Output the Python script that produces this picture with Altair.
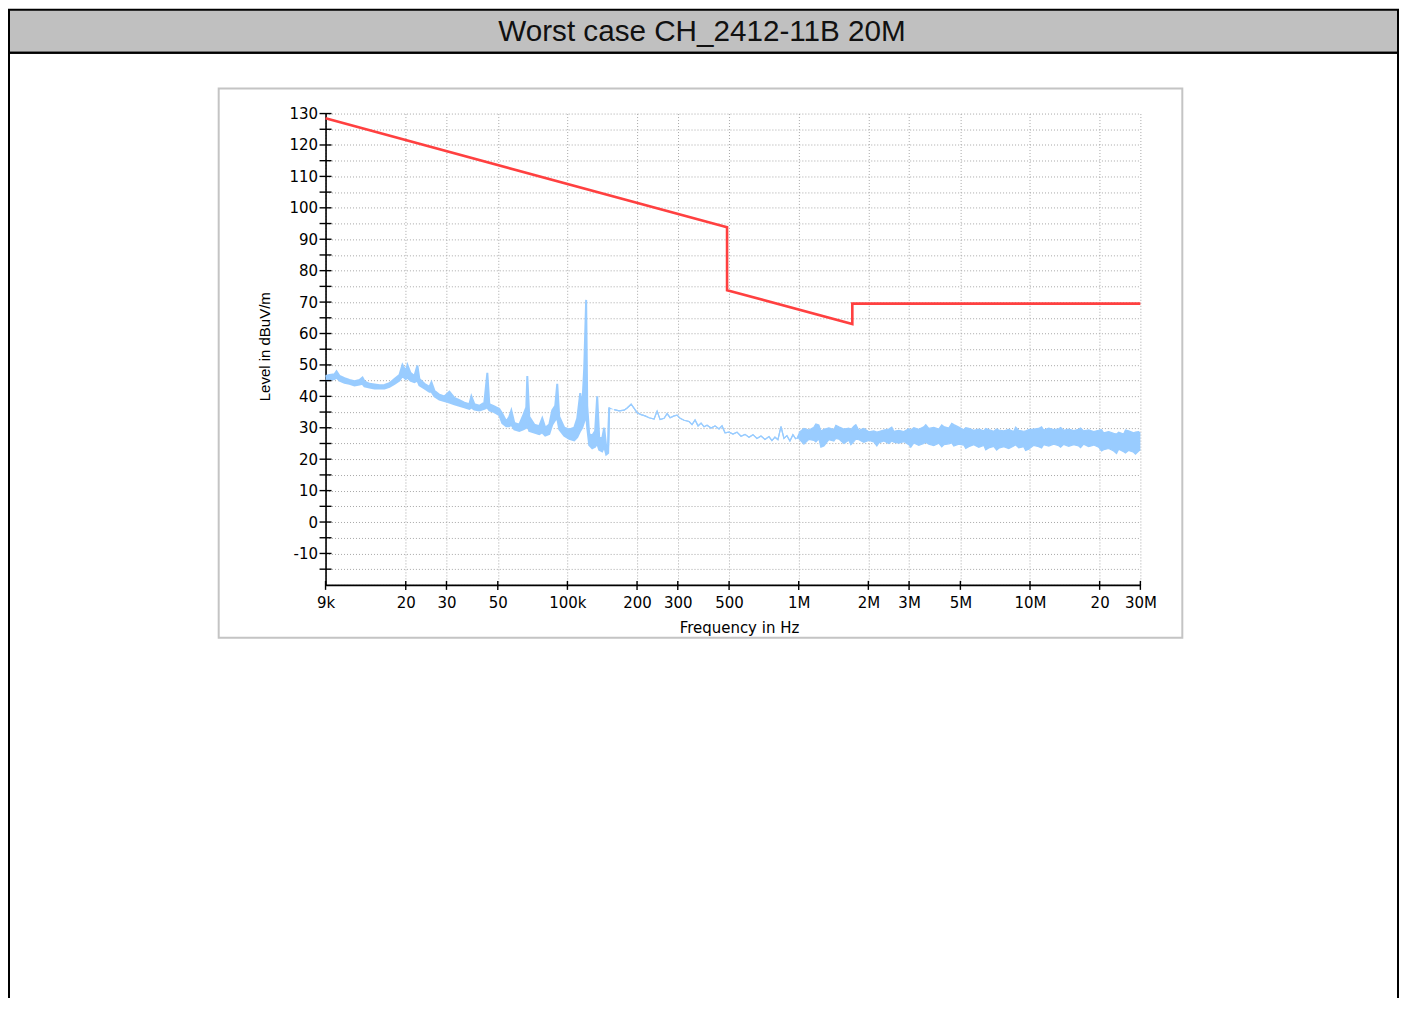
import altair as alt
import pandas as pd

TITLE = "Worst case CH_2412-11B 20M"
X_TITLE = "Frequency in Hz"
Y_TITLE = "Level in dBuV/m"

X_TICK_HZ = [9000, 20000, 30000, 50000, 100000, 200000, 300000, 500000,
             1000000, 2000000, 3000000, 5000000, 10000000, 20000000, 30000000]
X_TICK_LABELS = ["9k", "20", "30", "50", "100k", "200", "300", "500",
                 "1M", "2M", "3M", "5M", "10M", "20", "30M"]
Y_GRID = [-20, -15, -10, -5, 0, 5, 10, 15, 20, 25, 30, 35, 40, 45, 50, 55, 60,
          65, 70, 75, 80, 85, 90, 95, 100, 105, 110, 115, 120, 125, 130]
Y_TICKS = [-15, -10, -5, 0, 5, 10, 15, 20, 25, 30, 35, 40, 45, 50, 55, 60,
           65, 70, 75, 80, 85, 90, 95, 100, 105, 110, 115, 120, 125, 130]

# limit line (Hz, dBuV/m)
LIMIT_FREQ_HZ = [9000, 490000, 490000, 1705000, 1705000, 30000000]
LIMIT_LEVEL = [128.5, 93.8, 73.8, 63.0, 69.5, 69.5]

# measured trace, low band (kHz): min / max of the sweep
LOW_FREQ_KHZ = [9.00, 9.37, 9.84, 10.04, 10.35, 10.87, 11.42, 12.01, 12.62, 13.00,
                13.26, 13.94, 14.65, 15.40, 16.18, 17.00, 17.87, 18.78, 19.35, 20.00,
                20.34, 20.95, 21.80, 22.46, 22.91, 24.08, 25.31, 25.83, 26.60, 27.95,
                29.38, 30.88, 32.45, 34.10, 35.84, 37.67, 38.43, 39.59, 41.61, 43.73,
                45.05, 45.96, 48.30, 50.76, 52.28, 54.41, 56.07, 57.20, 58.93, 61.93,
                64.44, 66.40, 67.07, 68.40, 71.89, 75.55, 77.85, 80.20, 83.45, 85.97,
                88.58, 90.36, 92.17, 96.87, 101.8, 107.0, 110.3, 113.6, 115.8, 118.2,
                120.5, 121.8, 124.2, 128.0, 131.8, 134.5, 137.2, 141.3, 144.2, 147.1,
                150.0, 151.5]
LOW_LO = [45.0, 45.3, 45.5, 46.0, 45.0, 44.3, 44.0, 43.5, 43.8, 44.0,
          43.2, 42.8, 42.5, 42.5, 42.5, 43.0, 44.0, 45.0, 46.5, 45.5,
          46.0, 45.0, 44.5, 45.0, 43.5, 42.5, 41.5, 41.5, 40.0, 39.0,
          38.5, 38.0, 37.5, 37.0, 36.5, 36.0, 36.5, 35.8, 35.5, 36.0,
          36.5, 35.5, 35.0, 34.0, 31.5, 30.5, 30.5, 31.0, 29.5, 29.0,
          29.5, 30.0, 31.0, 29.0, 28.5, 28.0, 28.5, 27.5, 28.0, 31.0,
          32.5, 33.0, 29.5, 27.5, 26.5, 26.0, 27.0, 29.0, 30.0, 32.0,
          34.0, 30.0, 24.5, 23.5, 24.0, 25.0, 23.0, 22.5, 24.0, 21.5,
          22.0, 36.0]
LOW_HI = [46.5, 46.8, 47.0, 48.0, 46.5, 45.8, 45.2, 44.8, 45.2, 46.0,
          44.8, 44.0, 43.8, 43.5, 43.6, 44.2, 45.5, 46.8, 50.0, 48.0,
          50.0, 47.5, 46.5, 49.8, 45.5, 44.0, 43.0, 44.5, 41.8, 40.5,
          40.0, 41.5, 39.5, 38.8, 38.0, 37.5, 40.0, 37.5, 37.0, 38.0,
          47.5, 37.5, 36.8, 36.0, 34.5, 32.0, 33.5, 35.5, 31.5, 31.0,
          34.0, 36.5, 46.5, 33.5, 31.0, 30.5, 33.0, 30.0, 31.0, 35.5,
          37.0, 44.0, 33.5, 30.0, 29.5, 30.0, 33.0, 41.0, 36.0, 49.0,
          70.7, 37.0, 28.0, 27.5, 29.0, 40.0, 27.0, 26.5, 30.0, 24.0,
          24.5, 36.5]

# measured trace, middle band (kHz): single line
MID_FREQ_KHZ = [159.2, 167.4, 175.9, 181.2, 188.6, 194.3, 200.1, 208.2, 216.7, 225.5,
                237.0, 244.2, 251.6, 261.8, 269.8, 277.9, 289.2, 298.0, 307.0, 319.4,
                335.7, 345.8, 356.3, 367.1, 378.3, 389.7, 401.5, 417.8, 434.7, 452.3,
                466.1, 480.2, 499.6, 519.8, 541.0, 563.0, 585.8, 609.5, 634.2, 660.0,
                686.8, 714.7, 743.6, 766.0, 789.3, 813.2, 837.8, 863.2, 889.2, 916.2,
                944.0, 972.5]
MID_LEVEL = [35.8, 35.4, 35.6, 36.3, 37.5, 36.2, 34.8, 34.2, 33.8, 33.2,
             32.8, 35.3, 32.6, 33.0, 34.5, 33.2, 33.8, 34.0, 33.0, 32.4,
             32.0, 31.0, 32.5, 30.6, 31.5, 30.3, 30.8, 29.9, 30.6, 29.6,
             30.6, 28.4, 28.6, 28.0, 28.6, 27.3, 27.9, 27.0, 27.8, 26.6,
             27.4, 26.3, 27.2, 25.9, 27.0, 26.2, 30.4, 26.6, 27.5, 25.8,
             27.8, 26.4]

# measured trace, high band (kHz): min / max of the noise band
HIGH_FREQ_KHZ = [1002, 1053, 1107, 1163, 1222, 1285, 1350, 1419, 1491, 1567,
                 1647, 1731, 1820, 1912, 2010, 2112, 2220, 2333, 2452, 2577,
                 2709, 2847, 2992, 3145, 3305, 3474, 3651, 3837, 4033, 4238,
                 4455, 4682, 4921, 5172, 5435, 5712, 6004, 6310, 6632, 6970,
                 7325, 7699, 8091, 8504, 8938, 9393, 9872, 10380, 10900, 11460,
                 12050, 12660, 13310, 13980, 14700, 15450, 16230, 17060, 17930, 18850,
                 19810, 20820, 21880, 23000, 24170, 25400, 26700, 28060, 29490, 30000]
HIGH_LO = [26.5, 24.8, 26.3, 26.0, 26.5, 24.2, 26.2, 25.8, 26.4, 25.0,
           26.0, 25.6, 26.2, 25.4, 26.0, 25.5, 25.2, 25.8, 25.0, 25.4,
           25.1, 25.6, 24.6, 25.2, 24.4, 25.0, 24.8, 24.3, 25.1, 24.6,
           24.9, 24.2, 24.8, 24.5, 24.0, 24.6, 23.8, 24.4, 23.6, 24.1,
           23.5, 24.0, 23.4, 24.2, 23.6, 24.0, 23.2, 24.4, 24.0, 24.6,
           24.2, 24.8, 24.3, 24.7, 24.1, 24.6, 24.2, 24.8, 24.0, 24.5,
           23.8, 23.0, 23.4, 22.6, 23.2, 22.4, 22.8, 22.2, 22.6, 23.0]
HIGH_HI = [28.5, 29.8, 29.3, 30.2, 30.9, 29.5, 30.0, 29.4, 30.3, 29.6,
           29.9, 30.5, 29.2, 29.8, 28.7, 29.0, 28.8, 29.3, 29.6, 28.9,
           29.2, 28.8, 29.7, 30.0, 29.5, 30.3, 29.8, 30.1, 29.6, 30.4,
           29.9, 31.0, 30.2, 29.4, 29.8, 29.2, 29.6, 29.0, 29.4, 28.9,
           29.3, 29.0, 29.5, 28.8, 29.2, 28.9, 29.4, 29.6, 29.8, 29.3,
           29.9, 29.4, 29.7, 29.2, 29.6, 29.1, 29.5, 29.0, 29.3, 28.8,
           29.2, 28.4, 28.8, 28.2, 28.6, 28.0, 29.0, 28.4, 28.8, 28.2]

# isolated spikes / dips inside the high band (kHz)
SPIKE_FREQ_KHZ = [1186, 1247, 1447, 1680, 1766, 2176, 2526, 3051, 3542, 4152,
                  4587, 5272, 6433, 7174, 8667, 9571, 11220, 13560, 16540, 20380,
                  23660, 25870, 28570]
SPIKE_LO = [25.5, 23.8, 26.6, 24.6, 26.4, 24.2, 25.8, 23.8, 25.4, 23.9,
            25.2, 23.4, 23.0, 22.9, 24.6, 22.8, 23.6, 23.8, 23.7, 22.6,
            21.8, 22.0, 21.6]
SPIKE_HI = [31.2, 29.0, 30.8, 29.4, 31.0, 28.6, 30.2, 29.2, 31.0, 30.9,
            31.4, 30.0, 29.8, 29.6, 30.2, 29.0, 30.3, 30.1, 29.9, 29.4,
            28.0, 29.3, 28.6]

BLUE = "#99ccff"
RED = "#ff4040"
W, H = 816, 472

rows = []
for f, lo, hi in zip(LOW_FREQ_KHZ, LOW_LO, LOW_HI):
    rows.append({"freq": f * 1000, "lo": lo, "hi": hi, "seg": "low"})
for f, v in zip(MID_FREQ_KHZ, MID_LEVEL):
    rows.append({"freq": f * 1000, "lo": v, "hi": v, "seg": "mid"})
for f, lo, hi in zip(HIGH_FREQ_KHZ, HIGH_LO, HIGH_HI):
    rows.append({"freq": f * 1000, "lo": lo, "hi": hi, "seg": "high"})
for f, lo, hi in zip(SPIKE_FREQ_KHZ, SPIKE_LO, SPIKE_HI):
    rows.append({"freq": f * 1000, "lo": lo, "hi": hi, "seg": "high"})
trace_df = pd.DataFrame(rows).sort_values("freq").reset_index(drop=True)

limit_df = pd.DataFrame({"freq": LIMIT_FREQ_HZ, "lo": LIMIT_LEVEL,
                         "idx": list(range(len(LIMIT_LEVEL)))})
xtick_df = pd.DataFrame({"freq": X_TICK_HZ})
ytick_df = pd.DataFrame({"lo": Y_TICKS})

x_label_expr = "".join(f"datum.value == {v} ? '{l}' : " for v, l in zip(X_TICK_HZ, X_TICK_LABELS)) + "''"

XS = alt.Scale(type="log", domain=[9000, 30000000], nice=False)
YS = alt.Scale(domain=[-20, 130], nice=False, zero=False)

X_AXIS = alt.Axis(values=X_TICK_HZ, labelExpr=x_label_expr, grid=True,
                  gridColor="#a8a8a8", gridDash=[1, 2], gridWidth=1,
                  ticks=False, domainColor="black", domainWidth=1.6,
                  labelFont="DejaVu Sans", labelFontSize=15, labelColor="black",
                  labelPadding=11, labelOverlap=False, labelFlush=False,
                  title=X_TITLE, titleFont="DejaVu Sans", titleFontSize=15,
                  titleFontWeight="normal", titleColor="black",
                  titleX=414, titleY=43, titleBaseline="middle", titleAlign="center")
Y_AXIS = alt.Axis(values=Y_GRID,
                  labelExpr="datum.value % 10 == 0 && datum.value > -20 ? '' + datum.value : ''",
                  grid=True, gridColor="#a8a8a8", gridDash=[1, 2], gridWidth=1,
                  ticks=False, domainColor="black", domainWidth=1.6,
                  labelFont="DejaVu Sans", labelFontSize=15, labelColor="black",
                  labelPadding=8, labelOverlap=False,
                  title=Y_TITLE, titleFont="Liberation Sans", titleFontSize=15,
                  titleFontWeight="normal", titleColor="black",
                  titleX=-61, titleY=233, titleAngle=270, titleBaseline="middle",
                  titleAlign="center")


def X(field="freq"):
    return alt.X(f"{field}:Q", scale=XS, axis=X_AXIS, title=X_TITLE)


def Y(field="lo"):
    return alt.Y(f"{field}:Q", scale=YS, axis=Y_AXIS, title=Y_TITLE)


one = alt.Data(values=[{"k": 0}])

trace_area = alt.Chart(trace_df).mark_area(color=BLUE, opacity=1).encode(
    x=X(), y=Y("lo"), y2="hi:Q")
trace_lines = []
for seg, sw in [("low", 2.0), ("mid", 1.2), ("high", 1.2)]:
    for fld in ["hi", "lo"]:
        trace_lines.append(
            alt.Chart(trace_df).transform_filter(alt.datum.seg == seg)
            .mark_line(color=BLUE, strokeWidth=sw).encode(x=X(), y=Y(fld)))
limit = alt.Chart(limit_df).mark_line(color=RED, strokeWidth=2.6).encode(
    x=X(), y=Y("lo"), order="idx:Q")
yticks = alt.Chart(ytick_df).mark_rule(color="black", strokeWidth=1.4).encode(
    y=Y("lo"), x=alt.value(-6), x2=alt.value(6))
xticks = alt.Chart(xtick_df).mark_rule(color="black", strokeWidth=1.4).encode(
    x=X(), y=alt.value(H - 4), y2=alt.value(H + 5))

title_bar = alt.Chart(one).mark_rect(fill="#c0c0c0", stroke="black", strokeWidth=2).encode(
    x=alt.value(-317), x2=alt.value(1074), y=alt.value(-104), y2=alt.value(-61))
big_box = alt.Chart(one).mark_rect(fillOpacity=0, stroke="black", strokeWidth=2).encode(
    x=alt.value(-317), x2=alt.value(1074), y=alt.value(-61), y2=alt.value(960))
panel = alt.Chart(one).mark_rect(fillOpacity=0, stroke="#c4c4c4", strokeWidth=2).encode(
    x=alt.value(-107), x2=alt.value(858), y=alt.value(-25), y2=alt.value(525))
title_txt = alt.Chart(one).mark_text(font="Liberation Sans", fontSize=29.7, align="center",
                                     baseline="middle", color="#111111").encode(
    x=alt.value(377), y=alt.value(-82), text=alt.value(TITLE))

chart = alt.layer(
    trace_area, *trace_lines, limit, yticks, xticks,
    title_bar, big_box, panel, title_txt
).properties(
    width=W, height=H,
    padding={"left": 318, "top": 105, "right": 259, "bottom": 413},
    autosize=alt.AutoSizeParams(type="none"),
    background="white",
).configure_view(stroke="transparent")

chart.save("out.html", embed_options={"renderer": "svg", "actions": False})
